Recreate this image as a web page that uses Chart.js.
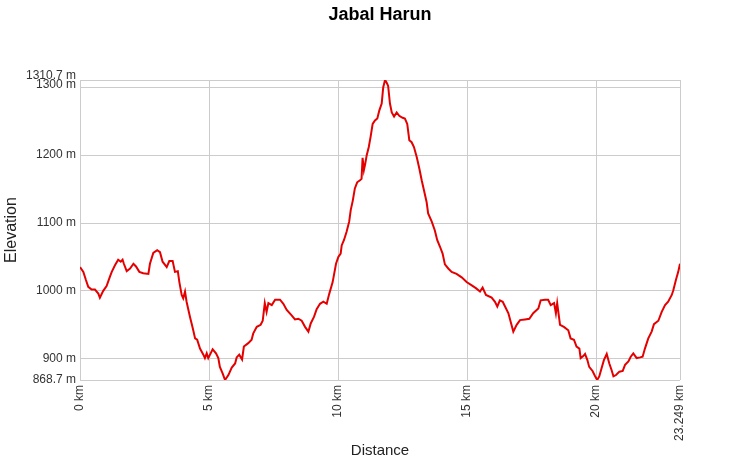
<!DOCTYPE html>
<html>
<head>
<meta charset="utf-8">
<script src="https://cdn.jsdelivr.net/npm/chart.js@4.4.1/dist/chart.umd.min.js"></script>
<style>
  html, body { margin: 0; padding: 0; background: #fff; }
  #wrap { width: 731px; height: 460px; }
</style>
</head>
<body>
<div id="wrap"><canvas id="c" width="731" height="460"></canvas></div>
<script>
// Distance along the route (km)
const distanceKm = [
  0.00, 0.13, 0.23, 0.32, 0.45, 0.58, 0.71, 0.77, 0.90, 1.03,
  1.16, 1.23, 1.36, 1.48, 1.58, 1.65, 1.70, 1.81, 1.94, 2.07,
  2.17, 2.30, 2.45, 2.65, 2.71, 2.84, 2.99, 3.10, 3.20, 3.36,
  3.46, 3.59, 3.68, 3.79, 3.85, 3.94, 4.00, 4.07, 4.13, 4.26,
  4.37, 4.46, 4.54, 4.65, 4.78, 4.84, 4.91, 4.97, 5.14, 5.27,
  5.36, 5.42, 5.53, 5.62, 5.75, 5.88, 6.01, 6.07, 6.17, 6.28,
  6.35, 6.52, 6.65, 6.71, 6.85, 7.00, 7.08, 7.16, 7.23, 7.30,
  7.43, 7.56, 7.75, 7.88, 8.01, 8.20, 8.33, 8.46, 8.59, 8.72,
  8.85, 8.94, 9.07, 9.17, 9.30, 9.43, 9.56, 9.66, 9.79, 9.92,
  10.01, 10.10, 10.14, 10.23, 10.33, 10.43, 10.49, 10.57, 10.65, 10.74,
  10.85, 10.91, 10.95, 11.00, 11.05, 11.11, 11.19, 11.26, 11.34, 11.43,
  11.52, 11.60, 11.69, 11.75, 11.82, 11.88, 11.94, 12.01, 12.08, 12.17,
  12.27, 12.37, 12.50, 12.59, 12.68, 12.76, 12.85, 12.94, 13.05, 13.15,
  13.24, 13.33, 13.43, 13.49, 13.63, 13.75, 13.84, 13.95, 14.05, 14.14,
  14.27, 14.40, 14.59, 14.79, 14.98, 15.18, 15.34, 15.50, 15.60, 15.73,
  15.95, 16.08, 16.17, 16.27, 16.38, 16.47, 16.60, 16.69, 16.79, 16.92,
  17.05, 17.24, 17.41, 17.56, 17.76, 17.85, 18.02, 18.14, 18.24, 18.37,
  18.44, 18.49, 18.60, 18.75, 18.92, 19.01, 19.14, 19.24, 19.35, 19.40,
  19.50, 19.57, 19.66, 19.73, 19.86, 19.95, 20.04, 20.12, 20.21, 20.30,
  20.41, 20.51, 20.60, 20.67, 20.77, 20.90, 21.03, 21.12, 21.25, 21.34,
  21.44, 21.57, 21.70, 21.80, 21.89, 22.02, 22.15, 22.24, 22.41, 22.54,
  22.67, 22.79, 22.93, 22.99, 23.09, 23.18, 23.249
];

// Elevation (m)
const elevationM = [
  1035, 1028, 1016, 1006, 1002, 1002, 996, 990, 1000, 1007,
  1021, 1028, 1038, 1046, 1043, 1046, 1040, 1029, 1033, 1040,
  1036, 1028, 1026, 1025, 1040, 1056, 1060, 1057, 1043, 1035,
  1044, 1044, 1028, 1029, 1013, 994, 989, 999, 984, 962,
  945, 930, 928, 915, 906, 901, 908, 901, 914, 908,
  901, 888, 878, 868.7, 876, 887, 893, 902, 906, 899,
  918, 923, 928, 937, 947, 950, 956, 982, 969, 982,
  979, 987, 987, 981, 972, 964, 958, 959, 956, 947,
  940, 952, 962, 973, 981, 984, 981, 996, 1013, 1040,
  1050, 1055, 1067, 1075, 1087, 1102, 1119, 1133, 1151, 1160,
  1163, 1165, 1196, 1178, 1187, 1200, 1212, 1227, 1246, 1251,
  1254, 1266, 1276, 1300, 1310.7, 1307, 1302, 1276, 1263, 1257,
  1263, 1258, 1255, 1254, 1246, 1222, 1219, 1212, 1197, 1180,
  1163, 1148, 1131, 1114, 1102, 1089, 1075, 1065, 1055, 1039,
  1033, 1028, 1025, 1020, 1013, 1008, 1004, 999, 1005, 994,
  990, 984, 977, 986, 984, 977, 967, 954, 940, 950,
  957, 958, 959, 967, 974, 986, 987, 987, 979, 982,
  967, 982, 950, 947, 942, 930, 928, 918, 915, 901,
  904, 907, 898, 888, 882, 875, 868.7, 874, 886, 898,
  907, 893, 883, 874, 876, 881, 882, 891, 896, 903,
  908, 901, 902, 903, 915, 930, 940, 951, 956, 969,
  979, 984, 994, 1001, 1016, 1028, 1040
];

// Tick values
const xTickValues = [0, 5, 10, 15, 20, 23.249];
const yTickValues = [868.7, 900, 1000, 1100, 1200, 1300, 1310.7];

const points = distanceKm.map((d, i) => ({ x: d, y: elevationM[i] }));
const FONT = "'Liberation Sans', Arial, sans-serif";

new Chart(document.getElementById('c'), {
  type: 'line',
  data: {
    datasets: [{
      data: points,
      borderColor: 'rgb(228,0,0)',
      borderWidth: 2,
      pointRadius: 0,
      tension: 0,
      fill: false
    }]
  },
  options: {
    responsive: false,
    animation: false,
    events: [],
    layout: { padding: { left: 0, right: 51, top: 0, bottom: 0 } },
    plugins: {
      legend: { display: false },
      tooltip: { enabled: false },
      title: {
        display: true,
        fullSize: false,
        text: 'Jabal Harun',
        color: '#000',
        font: { family: FONT, size: 18, weight: 'bold' },
        padding: { top: 4, bottom: 54.4 }
      }
    },
    scales: {
      x: {
        type: 'linear',
        min: 0,
        max: 23.249,
        afterBuildTicks: (axis) => { axis.ticks = xTickValues.map(v => ({ value: v })); },
        afterFit: (scale) => { scale.height = 80; },
        border: { display: false },
        grid: { color: '#cccccc', lineWidth: 1, drawTicks: false },
        ticks: {
          autoSkip: false,
          minRotation: 90,
          maxRotation: 90,
          padding: 5,
          color: '#333',
          font: { family: FONT, size: 12 },
          callback: (v) => v + ' km'
        },
        title: {
          display: true,
          text: 'Distance',
          color: '#222',
          font: { family: FONT, size: 15 },
          padding: { top: 0, bottom: 0 }
        }
      },
      y: {
        type: 'linear',
        min: 868.7,
        max: 1310.7,
        afterBuildTicks: (axis) => { axis.ticks = yTickValues.map(v => ({ value: v })); },
        afterFit: (scale) => { scale.width = 80; },
        border: { display: false },
        grid: { color: '#cccccc', lineWidth: 1, drawTicks: false },
        ticks: {
          autoSkip: false,
          padding: 4,
          color: '#333',
          font: (ctx) => {
            const v = ctx.tick ? ctx.tick.value : null;
            if (v === 1310.7) return { family: FONT, size: 12, lineHeight: '9px' };
            if (v === 1300) return { family: FONT, size: 12, lineHeight: '6px' };
            return { family: FONT, size: 12 };
          },
          callback: (v) => (v === 1310.7 || v === 1300) ? [v + ' m', ''] : v + ' m'
        },
        title: {
          display: true,
          text: 'Elevation',
          color: '#222',
          font: { family: FONT, size: 16 },
          padding: { top: 2, bottom: 0 }
        }
      }
    }
  }
});
</script>
</body>
</html>
